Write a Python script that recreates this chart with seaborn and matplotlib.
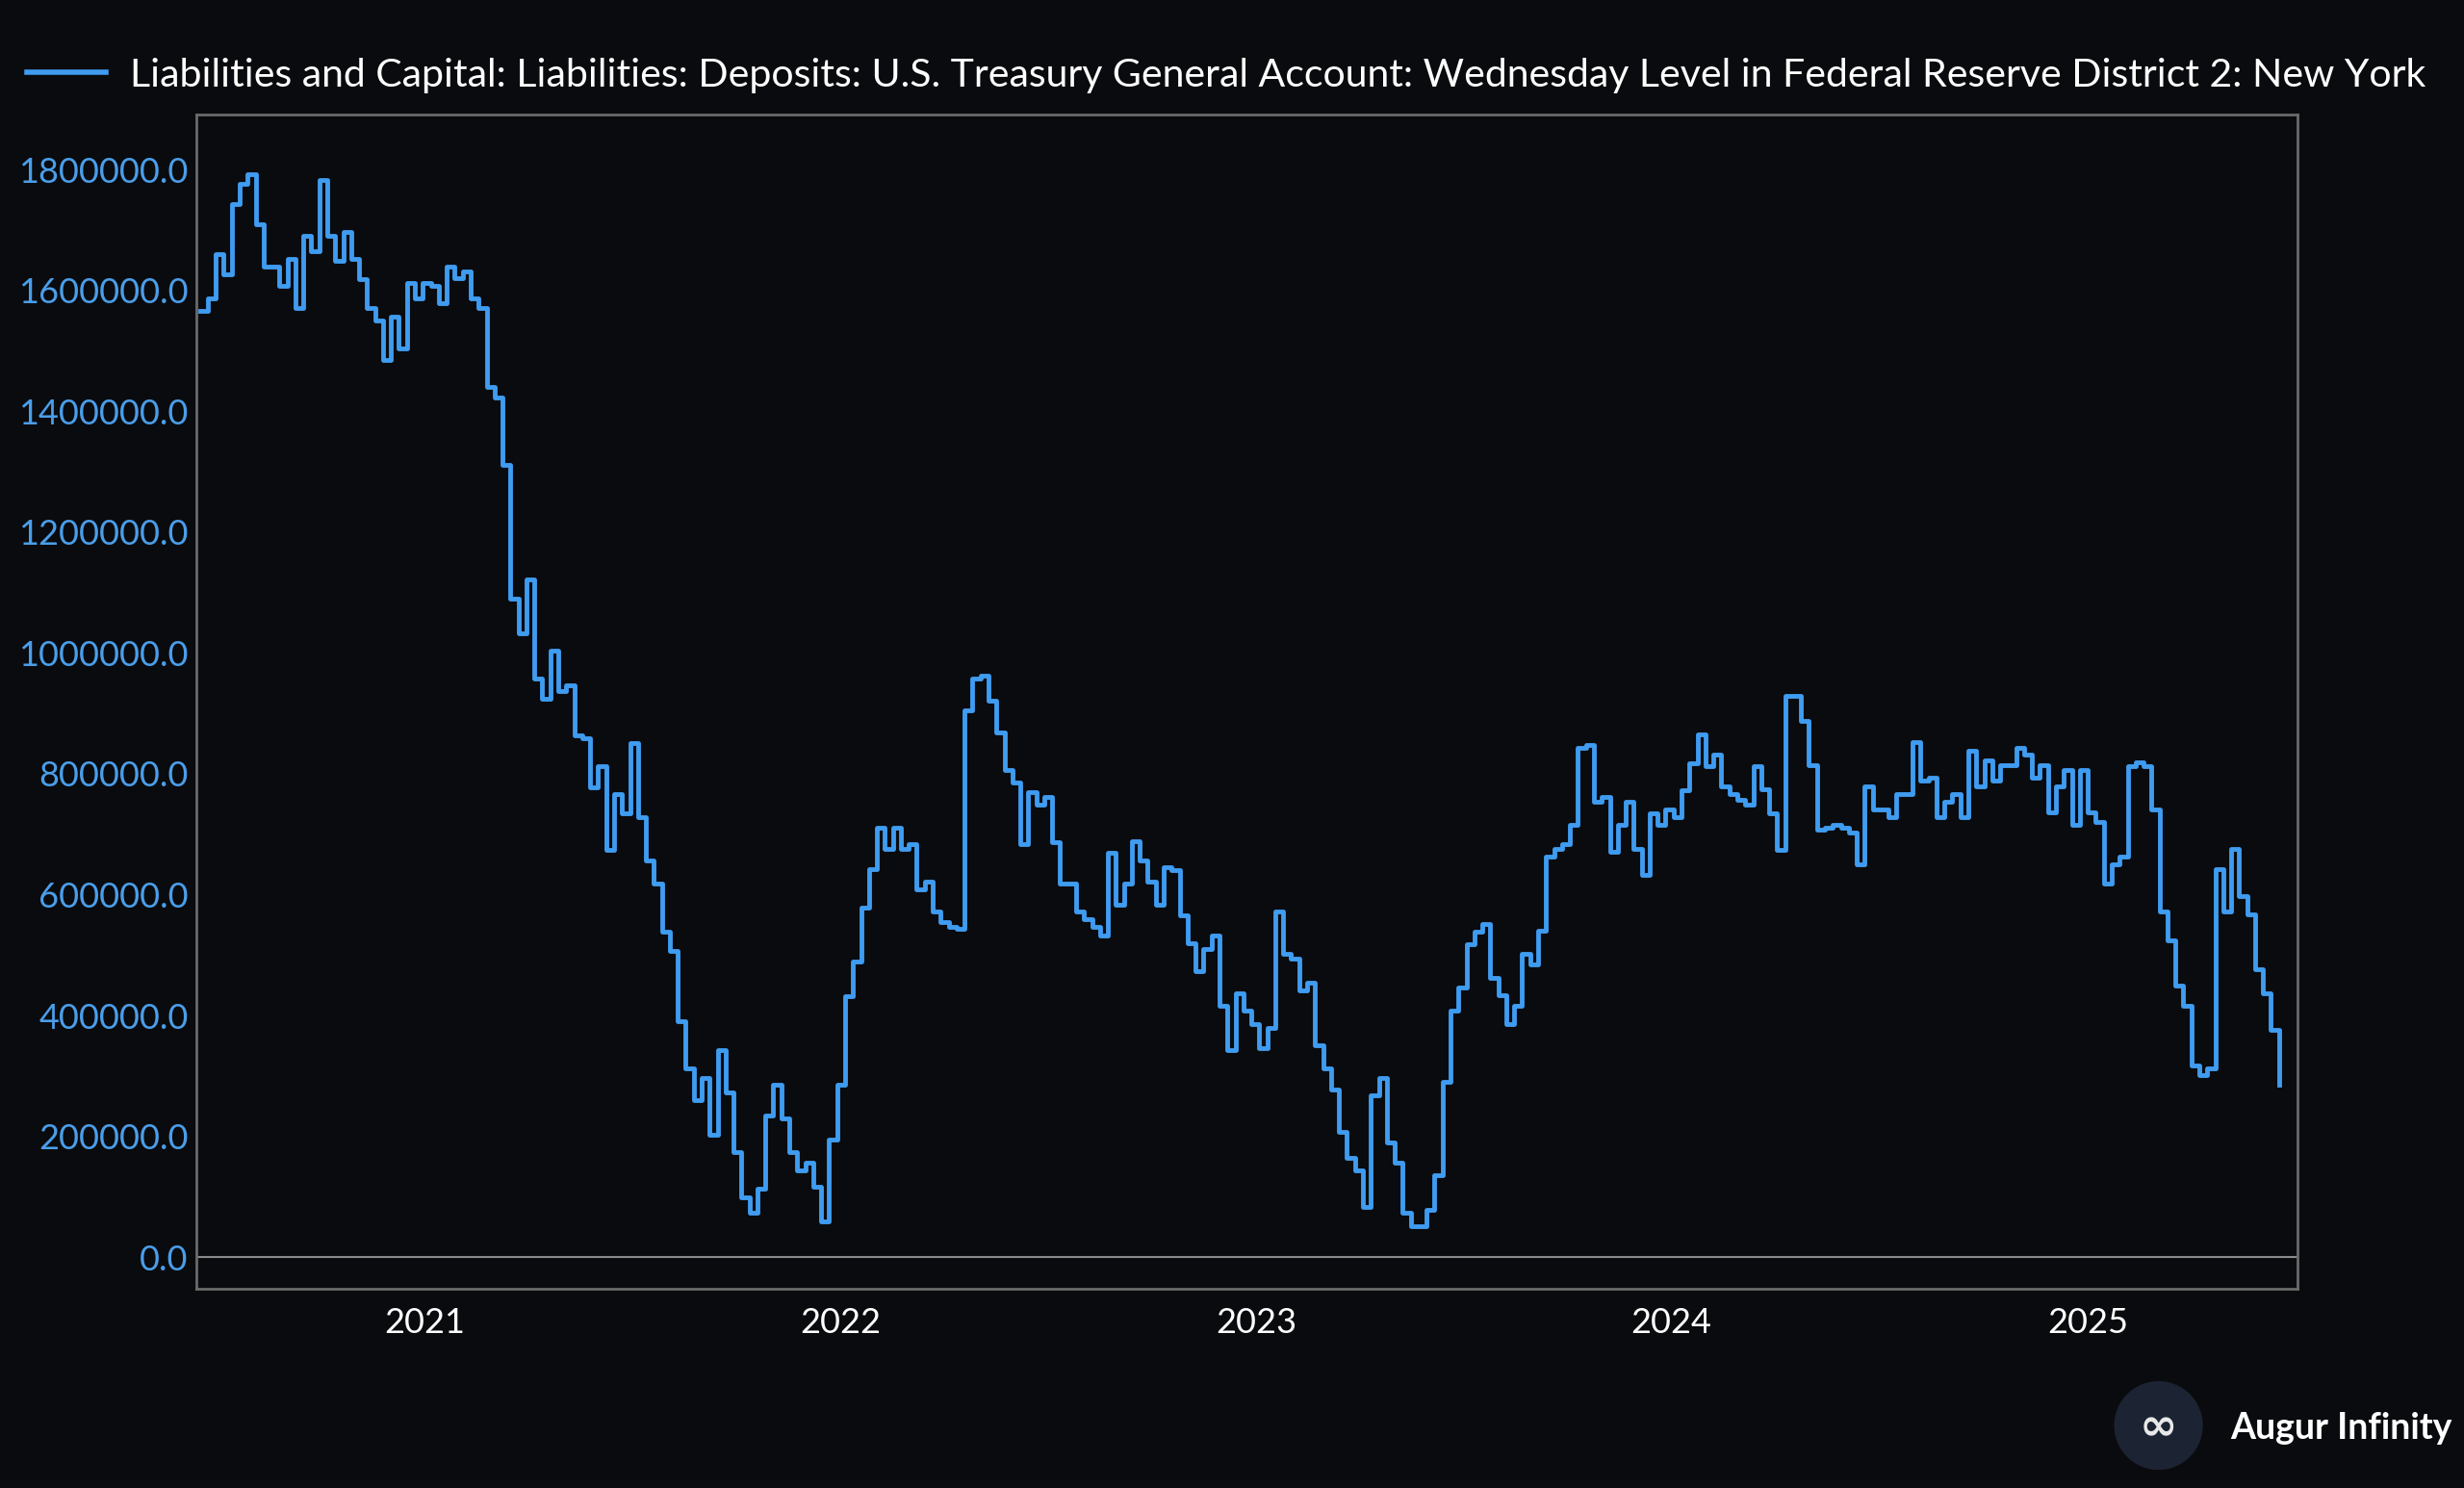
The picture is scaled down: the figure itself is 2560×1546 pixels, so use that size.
"""Treasury General Account deposits, NY Fed district, weekly step chart."""
import matplotlib
matplotlib.use("Agg")
import matplotlib.pyplot as plt
import matplotlib.dates as mdates
from matplotlib.ticker import FuncFormatter
import numpy as np
import pandas as pd
import seaborn as sns

BG = "#0a0b0e"
LINE = "#3f9cf0"
SERIES_NAME = ("Liabilities and Capital: Liabilities: Deposits: U.S. Treasury General Account: "
               "Wednesday Level in Federal Reserve District 2: New York")

START_DATE = "2020-06-17"
# weekly levels (thousands)
tga_k = [
    1566, 1587, 1660, 1626, 1743, 1777, 1792, 1709, 1639, 1639, 1608, 1652, 1571, 1691, 1665,
    1782, 1691, 1649, 1696, 1652, 1618, 1571, 1550, 1485, 1556, 1504, 1613, 1587, 1613, 1608,
    1579, 1639, 1621, 1631, 1587, 1571, 1441, 1423, 1311, 1090, 1033, 1121, 957, 924, 1004,
    937, 947, 864, 859, 778, 812, 674, 767, 734, 851, 728, 656, 619, 539, 507, 390, 312, 260,
    297, 203, 343, 273, 174, 99, 73, 114, 234, 286, 229, 174, 143, 156, 117, 60, 195, 286,
    432, 489, 578, 643, 710, 676, 710, 676, 684, 609, 622, 572, 554, 546, 544, 905, 957,
    962, 921, 869, 807, 786, 684, 770, 749, 762, 687, 619, 619, 572, 559, 546, 533, 669,
    583, 619, 689, 656, 622, 583, 645, 640, 565, 520, 473, 510, 533, 416, 343, 437, 408, 385,
    346, 380, 572, 502, 494, 442, 455, 351, 312, 278, 208, 164, 143, 83, 268, 297, 190, 156,
    73, 52, 52, 78, 135, 291, 408, 447, 518, 539, 551, 463, 434, 385, 416, 502, 484, 541, 663,
    676, 684, 715, 843, 848, 754, 762, 671, 715, 754, 676, 632, 734, 715, 741, 728, 773, 817,
    866, 812, 832, 780, 767, 757, 749, 812, 775, 734, 674, 929, 929, 887, 814, 708, 710, 715,
    710, 702, 650, 780, 741, 741, 728, 767, 767, 853, 788, 793, 728, 754, 767, 728, 838, 780,
    822, 788, 814, 814, 843, 832, 793, 814, 736, 780, 806, 715, 806, 736, 721, 619, 650, 663,
    812, 819, 812, 741, 572, 525, 450, 416, 317, 302, 312, 643, 572, 676, 598, 567, 476, 437,
    377, 286,
]
y_ticks = [0, 200000, 400000, 600000, 800000, 1000000, 1200000, 1400000, 1600000, 1800000]
x_years = ["2021", "2022", "2023", "2024", "2025"]

df = pd.DataFrame({
    "date": pd.date_range(START_DATE, periods=len(tga_k), freq="7D"),
    "value": np.array(tga_k, dtype=float) * 1000,
})

plt.rcParams["font.family"] = "Lato"
fig = plt.figure(figsize=(25.6, 15.46), dpi=100, facecolor=BG)
ax = fig.add_axes([0.0797, 0.134, 0.8526, 0.789], facecolor=BG)

sns.lineplot(data=df, x="date", y="value", ax=ax, color=LINE, lw=3.5,
             drawstyle="steps-post", label=SERIES_NAME)
ax.axhline(0, color="#8a8a8a", lw=1.5, zorder=0)

ax.set_xlim(pd.Timestamp("2020-06-14"), pd.Timestamp("2025-07-04"))
ax.set_ylim(-52000, 1891000)
ax.set_yticks(y_ticks)
ax.yaxis.set_major_formatter(FuncFormatter(lambda v, _: f"{v:.1f}"))
ax.set_xticks([pd.Timestamp(f"{y}-01-01") for y in x_years])
ax.xaxis.set_major_formatter(mdates.DateFormatter("%Y"))
ax.tick_params(axis="y", colors="#4a9eea", labelsize=26, length=0, pad=6)
ax.tick_params(axis="x", colors="white", labelsize=26, length=0, pad=14)
ax.set_xlabel("")
ax.set_ylabel("")
ax.grid(False)
for s in ax.spines.values():
    s.set_color("#6a6a6a")
    s.set_linewidth(2)

leg = ax.legend(loc="lower left", bbox_to_anchor=(-0.088, 1.005), frameon=False,
                fontsize=29.5, labelcolor="white", handlelength=2.0, handletextpad=0.6,
                borderaxespad=0)
for h in leg.get_lines():
    h.set_linewidth(4)

# branding bottom right
logo = fig.add_axes([0.858, 0.012, 0.036, 0.06])
logo.set_aspect("equal")
logo.axis("off")
logo.add_patch(matplotlib.patches.Circle((0.5, 0.5), 0.5, facecolor="#1c2433"))
logo.set_xlim(0, 1)
logo.set_ylim(0, 1)
logo.text(0.5, 0.47, "∞", color="#e8e8e8", fontsize=34, ha="center", va="center",
          fontfamily="DejaVu Sans", fontweight="bold")
fig.text(0.995, 0.040, "Augur Infinity", color="white", fontsize=27, fontweight="bold",
         ha="right", va="center")

fig.savefig("out.png", dpi=100, facecolor=BG)
